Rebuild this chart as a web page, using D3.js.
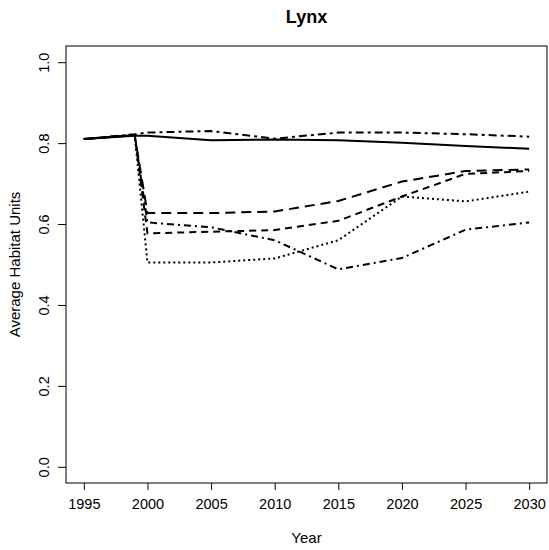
<!DOCTYPE html>
<html lang="en">

<head>
    <meta charset="UTF-8">
    <title>Lynx</title>
    <style>
        body { margin: 0; background: #fff; }
        text { font-family: "Liberation Sans", Arial, sans-serif; fill: #000; }
    </style>
</head>

<body>
</body>
<script src="https://cdn.jsdelivr.net/npm/d3@7"></script>
<script>
var years = [1995, 1999, 2000, 2005, 2010, 2015, 2020, 2025, 2030];

var solid    = [0.810, 0.818, 0.818, 0.807, 0.809, 0.807, 0.801, 0.793, 0.786];
var twodash  = [0.810, 0.822, 0.826, 0.830, 0.811, 0.826, 0.826, 0.822, 0.816];
var longdash = [0.810, 0.820, 0.627, 0.627, 0.631, 0.657, 0.705, 0.731, 0.735];
var dashed   = [0.810, 0.820, 0.577, 0.581, 0.585, 0.608, 0.668, 0.724, 0.731];
var dotdash  = [0.810, 0.820, 0.604, 0.592, 0.560, 0.488, 0.516, 0.586, 0.604];
var dotted   = [0.810, 0.820, 0.505, 0.505, 0.515, 0.560, 0.668, 0.656, 0.680];

var xTicks = [1995, 2000, 2005, 2010, 2015, 2020, 2025, 2030];
var yTicks = [0, 0.2, 0.4, 0.6, 0.8, 1.0];

var series = [
    { values: solid, dash: null },
    { values: twodash, dash: '3,4,8,4' },
    { values: longdash, dash: '10,6' },
    { values: dashed, dash: '7,5' },
    { values: dotdash, dash: '2,4,7,4' },
    { values: dotted, dash: '2,3' }
];

var W = 549, H = 550;
// plot box (note: "top" is a reserved window global, so use p* names)
var pLeft = 66, pRight = 547, pTop = 46, pBottom = 483;

var svg = d3.select('body')
    .append('svg')
    .attr('width', W)
    .attr('height', H);

// R style 4% padding on both axes
var x = d3.scaleLinear().domain([1993.6, 2031.4]).range([pLeft, pRight]);
var y = d3.scaleLinear().domain([-0.04, 1.04]).range([pBottom, pTop]);

var line = d3.line()
    .x(function(d, i) { return x(years[i]); })
    .y(function(d) { return y(d); });

svg.selectAll('path.series')
    .data(series)
    .enter()
    .append('path')
    .attr('class', 'series')
    .attr('d', function(d) { return line(d.values); })
    .attr('fill', 'none')
    .attr('stroke', '#000')
    .attr('stroke-width', 2)
    .attr('stroke-dasharray', function(d) { return d.dash; });

// box
svg.append('rect')
    .attr('x', pLeft)
    .attr('y', pTop)
    .attr('width', pRight - pLeft)
    .attr('height', pBottom - pTop)
    .attr('fill', 'none')
    .attr('stroke', '#000')
    .attr('stroke-width', 1);

var xAxis = svg.append('g')
    .attr('transform', 'translate(0,' + pBottom + ')')
    .call(d3.axisBottom(x).tickValues(xTicks).tickFormat(d3.format('d')).tickSize(7).tickPadding(9));

var yAxis = svg.append('g')
    .attr('transform', 'translate(' + pLeft + ',0)')
    .call(d3.axisLeft(y).tickValues(yTicks).tickFormat(d3.format('.1f')).tickSize(8).tickPadding(0));

[xAxis, yAxis].forEach(function(g) {
    g.select('.domain').remove();
    g.selectAll('line').attr('stroke', '#000');
    g.selectAll('text')
        .style('font-size', '14.5px')
        .attr('fill', '#000');
});

yAxis.selectAll('text')
    .attr('x', null)
    .attr('dy', null)
    .attr('y', 0)
    .attr('text-anchor', 'middle')
    .attr('dominant-baseline', 'central')
    .attr('transform', 'translate(-22,0) rotate(-90)');

svg.append('text')
    .attr('x', (pLeft + pRight) / 2)
    .attr('y', 23)
    .attr('text-anchor', 'middle')
    .style('font-size', '18px')
    .style('font-weight', 'bold')
    .text('Lynx');

svg.append('text')
    .attr('x', (pLeft + pRight) / 2)
    .attr('y', 543)
    .attr('text-anchor', 'middle')
    .style('font-size', '15px')
    .text('Year');

svg.append('text')
    .attr('transform', 'translate(20,' + (pTop + pBottom) / 2 + ') rotate(-90)')
    .attr('text-anchor', 'middle')
    .style('font-size', '15px')
    .text('Average Habitat Units');
</script>

</html>
